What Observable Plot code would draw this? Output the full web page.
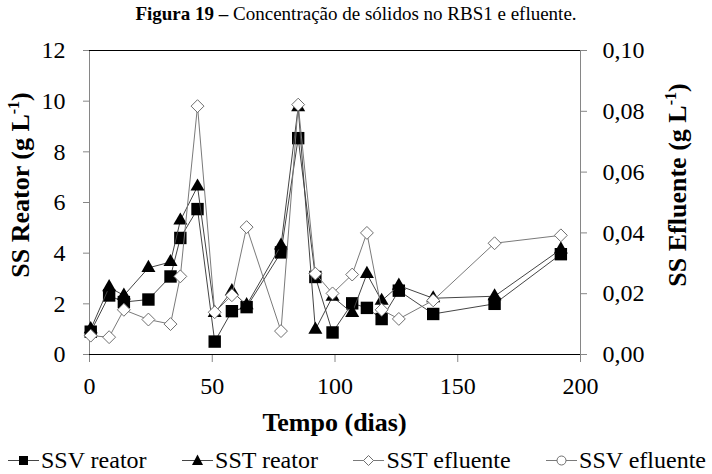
<!DOCTYPE html>
<html><head><meta charset="utf-8">
<script src="https://cdn.jsdelivr.net/npm/d3@7"></script>
<script src="https://cdn.jsdelivr.net/npm/@observablehq/plot@0.6"></script>
<style>
html,body{margin:0;padding:0;overflow:hidden;background:#fff;}
body{font-family:"Liberation Serif","Times New Roman",Times,"DejaVu Serif",serif;color:#000;}
#wrap{position:relative;width:712px;height:474px;overflow:hidden;}
#title{position:absolute;left:0;top:0;width:712px;height:28px;line-height:28px;text-align:center;font-size:19px;white-space:nowrap;}
#chart{position:absolute;left:0;top:28px;}
#legend{position:absolute;left:0;top:446px;width:712px;height:28px;line-height:28px;font-size:24px;display:flex;justify-content:space-between;align-items:center;box-sizing:border-box;padding:0 6px 0 8px;white-space:nowrap;}
#legend .it{display:flex;align-items:center;}
#legend svg{display:block;margin-right:2px;}
</style>
</head><body>
<div id="wrap">
  <div id="title"><b>Figura 19 –</b> Concentração de sólidos no RBS1 e efluente.</div>
  <div id="chart"></div>
  <div id="legend"></div>
</div>
<script>
// Data (days, g/L)
const dias = [0.5, 8, 14, 24, 33, 37, 44, 51, 58, 64, 78, 85, 92, 99, 107, 113, 119, 126, 140, 165, 192];
const ssvReator = [0.9, 2.33, 2.07, 2.17, 3.08, 4.6, 5.74, 0.51, 1.71, 1.87, 4.03, 8.54, 3.06, 0.87, 2.02, 1.84, 1.4, 2.52, 1.6, 2.0, 3.96];
const sstReator = [1.0, 2.66, 2.33, 3.42, 3.65, 5.29, 6.63, 1.64, 2.5, 1.95, 4.3, 9.76, 0.98, 2.28, 1.64, 3.18, 2.12, 2.72, 2.22, 2.3, 4.15];
const sstEfluente = [0.0062, 0.0057, 0.0147, 0.0115, 0.0100, 0.0257, 0.0817, 0.0139, 0.0195, 0.0419, 0.0077, 0.0822, 0.0266, 0.0201, 0.0263, 0.0400, 0.0147, 0.0117, 0.0178, 0.0366, 0.0392];
const seriesNames = ["SSV reator", "SST reator", "SST efluente", "SSV efluente"];
const xTicks = [0, 50, 100, 150, 200];
const yLeftTicks = [0, 2, 4, 6, 8, 10, 12];
const yRightTicks = [0, 0.02, 0.04, 0.06, 0.08, 0.10];

const FONT = '"Liberation Serif","Times New Roman",Times,"DejaVu Serif",serif';
const ratio = 12 / 0.10; // right axis (efluente) mapped onto left scale
const rows = dias.map((d, i) => ({dia: d, ssv: ssvReator[i], sst: sstReator[i], ef: sstEfluente[i]}));

const lineReator = "#454545";
const lineEfl = "#7a7a7a";
const axisGray = "#868686";

const plot = Plot.plot({
  width: 712,
  height: 414,
  marginTop: 22,
  marginBottom: 88,
  marginLeft: 89,
  marginRight: 132,
  style: {fontFamily: FONT, fontSize: "24px", color: "#000", background: "#fff", overflow: "visible"},
  x: {domain: [0, 200]},
  y: {domain: [0, 12]},
  marks: [
    Plot.ruleX([0], {stroke: axisGray}),
    Plot.ruleX([200], {stroke: axisGray}),
    Plot.ruleY([12], {stroke: "#000"}),
    Plot.axisX({ticks: xTicks, tickSize: 8, tickPadding: 14, fontSize: 24, stroke: axisGray, fill: "#000", label: null}),
    Plot.axisY({anchor: "left", ticks: yLeftTicks, tickSize: 6, tickPadding: 18, fontSize: 24, stroke: axisGray, fill: "#000", label: null}),
    Plot.axisY({anchor: "right", ticks: yRightTicks.map(v => v * ratio), tickSize: 6, tickPadding: 16, fontSize: 24, stroke: axisGray, fill: "#000", label: null,
      tickFormat: d => (d / ratio).toFixed(2).replace(".", ",")}),
    Plot.ruleY([0], {stroke: "#000"}),
    Plot.line(rows, {x: "dia", y: "ssv", stroke: lineReator, strokeWidth: 1}),
    Plot.dot(rows, {x: "dia", y: "ssv", symbol: "square", r: 7, fill: "#000", stroke: "none"}),
    Plot.line(rows, {x: "dia", y: "sst", stroke: lineReator, strokeWidth: 1}),
    Plot.dot(rows, {x: "dia", y: "sst", symbol: "triangle", r: 5.2, fill: "#000", stroke: "none"}),
    Plot.line(rows, {x: "dia", y: d => d.ef * ratio, stroke: lineEfl, strokeWidth: 1}),
    Plot.dot(rows, {x: "dia", y: d => d.ef * ratio, symbol: "diamond2", r: 5.8, fill: "#fff", stroke: "#6e6e6e", strokeWidth: 1})
  ]
});
document.getElementById("chart").appendChild(plot);

// Axis titles (real text)
const svg = d3.select(plot);
svg.append("text")
  .attr("x", 334.5).attr("y", 431 - 28)
  .attr("text-anchor", "middle")
  .attr("font-family", FONT)
  .attr("font-size", 26).attr("font-weight", "bold")
  .text("Tempo (dias)");

function vlabel(x, yc, main) {
  const t = svg.append("text")
    .attr("transform", `translate(${x},${yc}) rotate(-90)`)
    .attr("text-anchor", "middle")
    .attr("dy", "0.32em")
    .attr("font-family", FONT)
    .attr("font-size", 26).attr("font-weight", "bold");
  t.append("tspan").text(main);
  t.append("tspan").attr("font-size", 16).attr("dy", -10).text("-1");
  t.append("tspan").attr("dy", 10).text(")");
}
vlabel(21, 185 - 28, "SS Reator (g L");
vlabel(678, 185 - 28, "SS Efluente (g L");

// Legend
const legend = d3.select("#legend");
const sw = [
  g => g.append("rect").attr("x", 11).attr("y", 4).attr("width", 9).attr("height", 9).attr("fill", "#000"),
  g => g.append("path").attr("d", "M15.5,2.5 L21,13 L10,13 Z").attr("fill", "#000"),
  g => g.append("path").attr("d", "M15.5,3.5 L20.5,8.5 L15.5,13.5 L10.5,8.5 Z").attr("fill", "#fff").attr("stroke", "#6e6e6e"),
  g => g.append("circle").attr("cx", 15.5).attr("cy", 8.5).attr("r", 4.5).attr("fill", "#fff").attr("stroke", "#6e6e6e")
];
const lc = [lineReator, lineReator, lineEfl, lineEfl];
seriesNames.forEach((name, i) => {
  const it = legend.append("div").attr("class", "it");
  const s = it.append("svg").attr("width", 31).attr("height", 17);
  s.append("line").attr("x1", 0).attr("x2", 31).attr("y1", 8.5).attr("y2", 8.5).attr("stroke", lc[i]);
  sw[i](s);
  it.append("span").text(name);
});
</script>
</body></html>
